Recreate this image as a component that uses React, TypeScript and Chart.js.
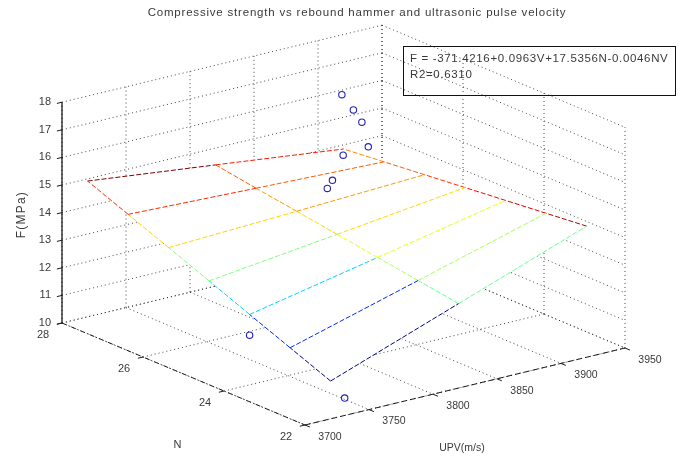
import React, { useEffect, useRef } from 'react';
import { Chart, registerables } from 'chart.js';

Chart.register(...registerables);

const W = 682;
const H = 459;

// ---------------- data ----------------
const titleText = 'Compressive strength vs rebound hammer and ultrasonic pulse velocity';
const nAxisLabel = 'N';
const vAxisLabel = 'UPV(m/s)';
const fAxisLabel = 'F(MPa)';
const fitLine = 'F = -371.4216+0.0963V+17.5356N-0.0046NV';
const r2Line = 'R2=0.6310';

const nTicks = [22, 24, 26, 28];
const vTicks = [3700, 3750, 3800, 3850, 3900, 3950];
const fTicks = [10, 11, 12, 13, 14, 15, 16, 17, 18];

// fitted surface (mesh)
const meshN = [22, 23, 24, 25, 26, 27, 28];
const meshV = [3720, 3820, 3920];
const meshF = [
  [11.37, 13.06, 14.75],
  [11.96, 13.28, 14.6],
  [12.55, 13.5, 14.45],
  [13.15, 13.72, 14.3],
  [13.74, 13.94, 14.15],
  [14.33, 14.16, 14.0],
  [14.92, 14.39, 13.85],
];

// measured specimens
const obsN = [27, 27, 26, 26, 27, 26, 26, 24, 22];
const obsV = [3887, 3896, 3871, 3876, 3888, 3844, 3848, 3720, 3731];
const obsF = [16.8, 16.15, 16.6, 15.65, 14.6, 14.5, 14.75, 11.8, 10.63];

// ---------------- view (layout) ----------------
const VIEW = {
  ox: 62, oy: 323, n0: 28, v0: 3700, f0: 10,
  nx: -40.5, ny: -17,
  vx: 1.28, vy: -0.308,
  fy: -27.6,
};
const N_MIN = 22, N_MAX = 28, V_MIN = 3700, V_MAX = 3950, F_MIN = 10, F_MAX = 18;

function proj(n: number, v: number, f: number) {
  return {
    x: VIEW.ox + (n - VIEW.n0) * VIEW.nx + (v - VIEW.v0) * VIEW.vx,
    y: VIEW.oy + (n - VIEW.n0) * VIEW.ny + (v - VIEW.v0) * VIEW.vy + (f - VIEW.f0) * VIEW.fy,
  };
}

function clamp01(x: number) {
  return Math.max(0, Math.min(1, x));
}
function jet(t: number) {
  t = clamp01(t);
  const r = clamp01(1.5 - Math.abs(4 * t - 3));
  const g = clamp01(1.5 - Math.abs(4 * t - 2));
  const b = clamp01(1.5 - Math.abs(4 * t - 1));
  return `rgb(${Math.round(r * 255)},${Math.round(g * 255)},${Math.round(b * 255)})`;
}

const FONT = '"Liberation Sans", Arial, Helvetica, sans-serif';
const TEXT = '#3a3a3a';

export default function App() {
  const ref = useRef<HTMLCanvasElement>(null);

  useEffect(() => {
    const canvas = ref.current;
    if (!canvas) return;
    const datasets: any[] = [];
    const seg = (a: any, b: any, color: string, dash: number[], width: number, order: number) => {
      datasets.push({
        data: [a, b],
        showLine: true,
        borderColor: color,
        borderWidth: width,
        borderDash: dash,
        pointRadius: 0,
        pointHoverRadius: 0,
        fill: false,
        order,
      });
    };

    const GRID = 'rgba(40,40,40,0.85)';
    const gdash = [1, 3];
    // floor grid
    nTicks.forEach((n) => seg(proj(n, V_MIN, F_MIN), proj(n, V_MAX, F_MIN), GRID, gdash, 1, 10));
    vTicks.forEach((v) => seg(proj(N_MAX, v, F_MIN), proj(N_MIN, v, F_MIN), GRID, gdash, 1, 10));
    // back wall N = 28
    vTicks.forEach((v) => seg(proj(N_MAX, v, F_MIN), proj(N_MAX, v, F_MAX), GRID, gdash, 1, 10));
    fTicks.forEach((f) => seg(proj(N_MAX, V_MIN, f), proj(N_MAX, V_MAX, f), GRID, gdash, 1, 10));
    // right wall V = 3950
    nTicks.forEach((n) => seg(proj(n, V_MAX, F_MIN), proj(n, V_MAX, F_MAX), GRID, gdash, 1, 10));
    fTicks.forEach((f) => seg(proj(N_MAX, V_MAX, f), proj(N_MIN, V_MAX, f), GRID, gdash, 1, 10));

    // axes
    const AX = '#1a1a1a';
    seg(proj(N_MAX, V_MIN, F_MIN), proj(N_MAX, V_MIN, F_MAX), AX, [], 1.3, 8);
    seg(proj(N_MAX, V_MIN, F_MIN), proj(N_MIN, V_MIN, F_MIN), AX, [5, 2, 1, 2], 1, 8);
    seg(proj(N_MIN, V_MIN, F_MIN), proj(N_MIN, V_MAX, F_MIN), AX, [6, 3], 1, 8);
    // ticks
    fTicks.forEach((f) => seg(proj(N_MAX, V_MIN, f), proj(N_MAX, V_MIN - 4, f), AX, [], 1, 8));
    nTicks.forEach((n) => seg(proj(n, V_MIN, F_MIN), proj(n, V_MIN - 4, F_MIN), AX, [], 1, 8));
    vTicks.forEach((v) => seg(proj(N_MIN, v, F_MIN), proj(N_MIN - 0.12, v, F_MIN), AX, [], 1, 8));

    // surface white face (hides grid behind)
    const boundary: any[] = [];
    const last = meshN.length - 1;
    const lastV = meshV.length - 1;
    meshV.forEach((v, j) => boundary.push(proj(meshN[last], v, meshF[last][j])));
    for (let i = last; i >= 0; i--) boundary.push(proj(meshN[i], meshV[lastV], meshF[i][lastV]));
    for (let j = lastV; j >= 0; j--) boundary.push(proj(meshN[0], meshV[j], meshF[0][j]));
    for (let i = 0; i <= last; i++) boundary.push(proj(meshN[i], meshV[0], meshF[i][0]));
    datasets.push({ data: boundary, showLine: false, pointRadius: 0, planeFill: true, order: 6 });

    // mesh lines coloured by height (jet)
    let fmin = Infinity, fmax = -Infinity;
    meshF.forEach((row) => row.forEach((f) => { fmin = Math.min(fmin, f); fmax = Math.max(fmax, f); }));
    const col = (f: number) => jet((f - fmin) / (fmax - fmin));
    const mdash = [5, 2];
    meshN.forEach((n, i) => {
      for (let j = 0; j < meshV.length - 1; j++) {
        seg(proj(n, meshV[j], meshF[i][j]), proj(n, meshV[j + 1], meshF[i][j + 1]), col(meshF[i][j]), mdash, 1, 4);
      }
    });
    meshV.forEach((v, j) => {
      for (let i = 0; i < meshN.length - 1; i++) {
        seg(proj(meshN[i], v, meshF[i][j]), proj(meshN[i + 1], v, meshF[i + 1][j]), col(meshF[i][j]), mdash, 1, 4);
      }
    });

    // observations
    datasets.push({
      data: obsN.map((n, i) => proj(n, obsV[i], obsF[i])),
      showLine: false,
      pointStyle: 'circle',
      pointRadius: 3.2,
      pointHoverRadius: 3.2,
      pointBorderColor: '#2424b8',
      pointBackgroundColor: 'rgba(0,0,0,0)',
      pointBorderWidth: 1.1,
      order: 0,
    });

    const planeFillPlugin = {
      id: 'planeFill',
      beforeDatasetDraw(chart: any, args: any) {
        const ds = chart.data.datasets[args.index];
        if (!ds.planeFill) return;
        const pts = args.meta.data;
        const ctx = chart.ctx;
        ctx.save();
        ctx.beginPath();
        pts.forEach((p: any, k: number) => (k ? ctx.lineTo(p.x, p.y) : ctx.moveTo(p.x, p.y)));
        ctx.closePath();
        ctx.fillStyle = '#ffffff';
        ctx.fill();
        ctx.restore();
      },
    };

    const textPlugin = {
      id: 'texts',
      afterDraw(chart: any) {
        const ctx = chart.ctx as any;
        const sx = chart.scales.x;
        const sy = chart.scales.y;
        const P = (n: number, v: number, f: number) => {
          const q = proj(n, v, f);
          return { x: sx.getPixelForValue(q.x), y: sy.getPixelForValue(q.y) };
        };
        ctx.save();
        ctx.fillStyle = TEXT;
        // title
        ctx.font = `11.5px ${FONT}`;
        ctx.letterSpacing = '0.8px';
        ctx.textAlign = 'center';
        ctx.textBaseline = 'middle';
        ctx.fillText(titleText, 357, 13);
        ctx.letterSpacing = '0px';
        // F tick labels
        ctx.font = `11px ${FONT}`;
        ctx.textAlign = 'right';
        fTicks.forEach((f) => {
          const p = P(N_MAX, V_MIN, f);
          ctx.fillText(String(f), p.x - 11, p.y);
        });
        // N tick labels
        ctx.textAlign = 'center';
        nTicks.forEach((n) => {
          const p = P(n, V_MIN, F_MIN);
          ctx.fillText(String(n), p.x - 19, p.y + 12);
        });
        // V tick labels
        ctx.font = `10.5px ${FONT}`;
        vTicks.forEach((v) => {
          const p = P(N_MIN, v, F_MIN);
          ctx.fillText(String(v), p.x + 25, p.y + 12);
        });
        // axis labels
        ctx.font = `11px ${FONT}`;
        const pn = P(25, V_MIN, F_MIN);
        ctx.fillText(nAxisLabel, pn.x - 6, pn.y + 71);
        const pv = P(N_MIN, 3825, F_MIN);
        ctx.font = `10.5px ${FONT}`;
        ctx.fillText(vAxisLabel, pv.x - 3, pv.y + 62);
        ctx.save();
        ctx.font = `12px ${FONT}`;
        ctx.letterSpacing = '1.2px';
        const pf = P(N_MAX, V_MIN, 14);
        ctx.translate(pf.x - 40, pf.y + 2);
        ctx.rotate(-Math.PI / 2);
        ctx.fillText(fAxisLabel, 0, 0);
        ctx.restore();
        // equation box
        ctx.strokeStyle = '#111';
        ctx.lineWidth = 1;
        ctx.strokeRect(403.5, 46.5, 272, 49);
        ctx.textAlign = 'left';
        ctx.font = `11.5px ${FONT}`;
        ctx.letterSpacing = '0.65px';
        ctx.fillText(fitLine, 410, 59);
        ctx.fillText(r2Line, 410, 75);
        ctx.restore();
      },
    };

    const chart = new Chart(canvas, {
      type: 'scatter',
      data: { datasets },
      options: {
        animation: false,
        responsive: false,
        devicePixelRatio: 1,
        events: [],
        layout: { padding: 0, autoPadding: false } as any,
        plugins: {
          legend: { display: false },
          tooltip: { enabled: false },
          title: { display: false },
        },
        scales: {
          x: { type: 'linear', min: 0, max: W, display: false },
          y: { type: 'linear', min: 0, max: H, reverse: true, display: false },
        },
      },
      plugins: [planeFillPlugin, textPlugin],
    });
    return () => chart.destroy();
  }, []);

  return (
    <div style={{ position: 'fixed', left: 0, top: 0, width: W, height: H, background: '#ffffff' }}>
      <canvas ref={ref} width={W} height={H} style={{ display: 'block' }} />
    </div>
  );
}
